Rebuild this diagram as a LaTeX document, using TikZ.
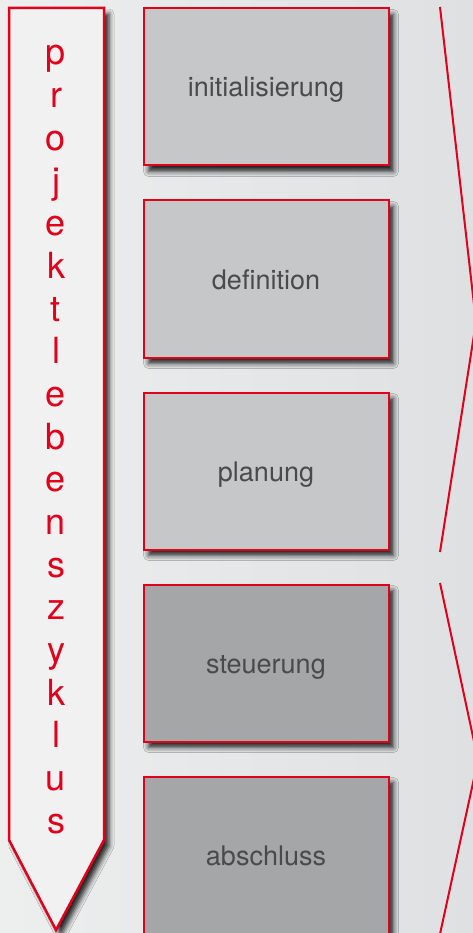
\documentclass[tikz,border=0pt]{standalone}
\usepackage{fontspec}
\setmainfont{TeX Gyre Heros}
\usetikzlibrary{positioning,shadows.blur}

\definecolor{lcred}{HTML}{E3001B}
\definecolor{phaselight}{HTML}{C6C7C9}
\definecolor{phasedark}{HTML}{A5A6A8}
\definecolor{phasetext}{HTML}{4A4A4A}
\definecolor{bgleft}{HTML}{EDEEEE}
\definecolor{bgright}{HTML}{DFE0E2}

\tikzset{
  softshadow/.style={blur shadow={shadow xshift=5pt, shadow yshift=-6pt,
      shadow blur radius=5pt, shadow opacity=85}},
  phase/.style={draw=lcred, line width=2pt, minimum width=245pt,
    minimum height=157pt, text=phasetext, softshadow,
    text height=20pt, text depth=0pt,
    font=\fontsize{27}{30}\selectfont},
  letter/.style={text=lcred, anchor=base, font=\fontsize{36}{40}\selectfont},
  chevron/.style={draw=lcred, line width=2pt},
}

\begin{document}
\begin{tikzpicture}[x=1pt,y=-1pt]
  \useasboundingbox (0,0) rectangle (473,933);
  \clip (0,0) rectangle (473,933);
  \shade[left color=bgleft, right color=bgright] (0,0) rectangle (473,933);

  % lebenszyklus pfeil
  \path[draw=lcred, fill=bgleft!80!white, line width=2.5pt, softshadow]
    (9,8) -- (104,8) -- (104,840) -- (56,930) -- (9,840) -- cycle;
  \foreach \ch [count=\i from 0] in {p,r,o,j,e,k,t,l,e,b,e,n,s,z,y,k,l,u,s}
    \node[letter] (z\i) at (56,{65+42.67*\i}) {\ch};

  % phasen
  \node[phase, fill=phaselight] (init) at (266,87) {initialisierung};
  \node[phase, fill=phaselight, below=33pt of init] (def) {definition};
  \node[phase, fill=phaselight, below=33pt of def] (plan) {planung};
  \node[phase, fill=phasedark, below=33pt of plan] (steuer) {steuerung};
  \node[phase, fill=phasedark, below=33pt of steuer] (absch) {abschluss};

  % klammern rechts
  \coordinate (k1a) at (440,7);
  \coordinate (k1b) at (476,322);
  \coordinate (k1c) at (440,552);
  \coordinate (k2a) at (440,583);
  \coordinate (k2b) at (478,760);
  \coordinate (k2c) at (440,934);
  \draw[chevron] (k1a) -- (k1b) -- (k1c);
  \draw[chevron] (k2a) -- (k2b) -- (k2c);
\end{tikzpicture}
\end{document}
